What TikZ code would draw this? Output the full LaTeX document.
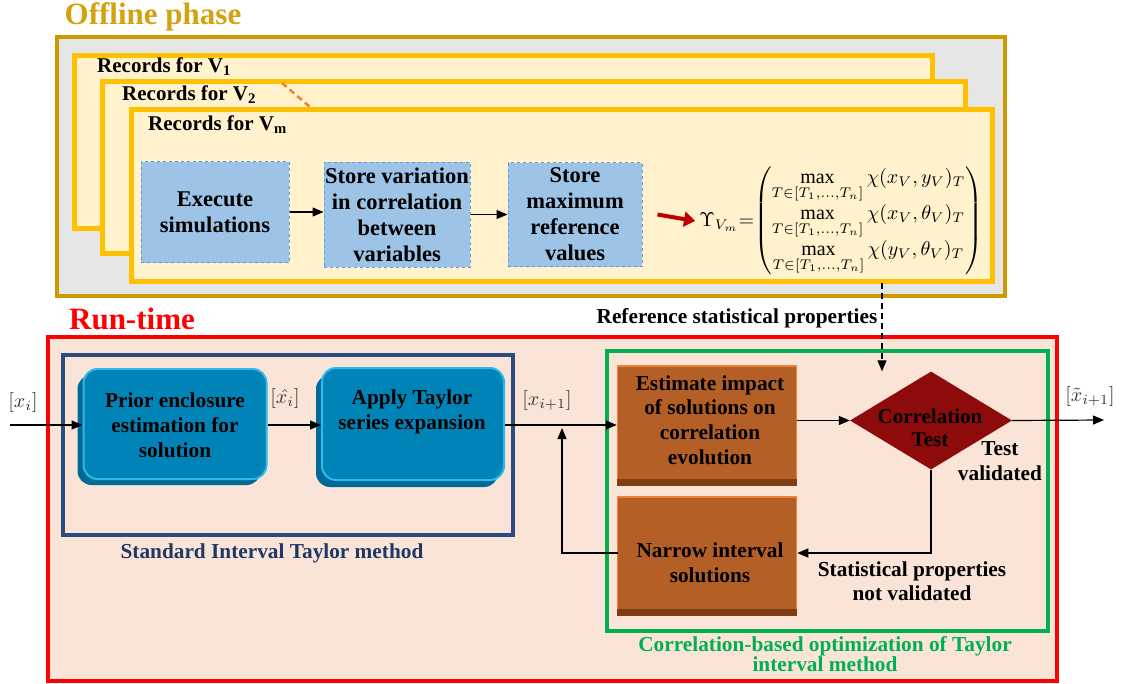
\documentclass[tikz,border=0pt]{standalone}
\usepackage{amsmath}
\usepackage{graphicx}
\usepackage{fontspec}
\setmainfont{Liberation Serif}
\usetikzlibrary{shapes.geometric,arrows.meta}
\definecolor{goldb}{HTML}{CC9900}
\definecolor{goldt}{HTML}{D4A20F}
\definecolor{grayf}{HTML}{E6E6E6}
\definecolor{recb}{HTML}{FFC000}
\definecolor{recf}{HTML}{FFF2CC}
\definecolor{lblue}{HTML}{9DC3E6}
\definecolor{dblue}{HTML}{5B9BD5}
\definecolor{peach}{HTML}{FAE4D7}
\definecolor{navy}{HTML}{2B4C7E}
\definecolor{navyt}{HTML}{1F3864}
\definecolor{gre}{HTML}{00B050}
\definecolor{teal}{HTML}{0084B8}
\definecolor{tealsh}{HTML}{006A96}
\definecolor{teall}{HTML}{2FB8EE}
\definecolor{brown}{HTML}{B35F26}
\definecolor{brownb}{HTML}{EE8234}
\definecolor{brownd}{HTML}{7E3D12}
\definecolor{dred}{HTML}{8E0B0B}
\definecolor{arrred}{HTML}{C00000}
\begin{document}
\begin{tikzpicture}[x=1pt,y=-1pt,
  rec/.style={draw=recb,line width=5pt,fill=recf},
  rlabel/.style={anchor=west,font=\bfseries\fontsize{21}{23}\selectfont,inner sep=0pt},
  dbox/.style={draw=dblue,dashed,line width=1pt,fill=lblue,inner sep=0pt,align=center,font=\bfseries\fontsize{22.5}{26}\selectfont},
  tbox/.style={rounded corners=14pt,fill=teal,draw=teall,line width=2pt,inner sep=0pt},
  tshadow/.style={rounded corners=14pt,fill=tealsh,inner sep=0pt},
  btxt/.style={align=center,font=\bfseries\fontsize{21.3}{24.8}\selectfont,inner sep=0pt},
  obox/.style={fill=brown,draw=brownb,line width=1.5pt,inner sep=0pt},
  arr/.style={line width=1.2pt,-{Triangle[length=11pt,width=9pt]}},
  mlabel/.style={text=black!80,inner sep=0pt},
  lbl/.style={align=center,font=\bfseries\fontsize{21.3}{24}\selectfont,inner sep=0pt}
]
\useasboundingbox (0,0) rectangle (1127,683);
% ---------------- Offline phase
\node[font=\bfseries\fontsize{31}{33}\selectfont,text=goldt,inner sep=0pt] (offt) at (153,17) {Offline phase};
\draw[draw=goldb,fill=grayf,line width=4pt] (57,37) rectangle (1005,296);
\draw[rec] (74,55) rectangle (932,228);
\draw[rec] (102,81) rectangle (965,253);
\draw[rec] (131,109) rectangle (992,281);
\node[rlabel] (r1) at (97,67) {Records for V\textsubscript{1}};
\node[rlabel] (r2) at (122,95) {Records for V\textsubscript{2}};
\node[rlabel] (r3) at (148,125) {Records for V\textsubscript{m}};
\coordinate (d1) at (282,83);
\coordinate (d2) at (310,107);
\draw[draw=brownb,line width=2.5pt,dash pattern=on 6pt off 4pt] (d1) -- (d2);

\node[dbox,minimum width=148,minimum height=101] (exec) at (215,212) {Execute\\simulations};
\node[dbox,minimum width=146,minimum height=105] (svar) at (397,214.5) {Store variation\\in correlation\\between\\variables};
\node[dbox,minimum width=134,minimum height=104] (smax) at (575,214.5) {Store\\maximum\\reference\\values};
\draw[arr] (exec.east) -- (exec.east -| svar.west);
\draw[arr] (svar.east) -- (svar.east -| smax.west);

\node[inner sep=0pt] (form) at (841,221)
 {\scalebox{2}{$\Upsilon_{V_m}{=}\!\begin{pmatrix}\max\limits_{T\in[T_1,\ldots,T_n]}\chi(x_V,y_V)_T\\[1pt]
 \max\limits_{T\in[T_1,\ldots,T_n]}\chi(x_V,\theta_V)_T\\[1pt]
 \max\limits_{T\in[T_1,\ldots,T_n]}\chi(y_V,\theta_V)_T\end{pmatrix}$}};
\draw[arrred,line width=4pt,-{Triangle[length=11pt,width=15pt]}] ([xshift=15pt]smax.east) -- ([xshift=-4pt]form.west);

% ---------------- Run-time
\node[font=\bfseries\fontsize{31}{33}\selectfont,text=red,inner sep=0pt] (runt) at (132,319) {Run-time};
\node[lbl] (refp) at (737,318) {Reference statistical properties};
\draw[draw=red,fill=peach,line width=4pt] (48,337) rectangle (1057,681);
\draw[draw=navy,line width=4pt] (63,355) rectangle (513,535);
\node[lbl,text=navyt] (stdl) at (272,553) {Standard Interval Taylor method};
\draw[draw=gre,line width=4.5pt] (607,351) rectangle (1048,631);
\node[lbl,text=gre,font=\bfseries\fontsize{21.3}{18}\selectfont] (corl) at (825,654) {Correlation-based optimization of Taylor\\interval method};

% teal boxes
\node[tshadow,minimum width=183,minimum height=110] (priors) at (169,430) {};
\node[tbox,minimum width=183,minimum height=110] (prior) at (175,424) {};
\node[btxt] (priort) at (175,425) {Prior enclosure\\estimation for\\solution};
\node[tshadow,minimum width=182,minimum height=112] (applys) at (407,431) {};
\node[tbox,minimum width=182,minimum height=112] (apply) at (413,424) {};
\node[btxt] (applyt) at (412,412) {Apply Taylor\\series expansion};

% orange boxes
\node[obox,minimum width=179,minimum height=119] (est) at (707,425.5) {};
\fill[brownd] ([yshift=7pt]est.south west) -- ([yshift=7pt]est.south east) -- (est.south east) -- (est.south west) -- cycle;
\node[btxt] (estt) at (710,420) {Estimate impact\\of solutions on\\correlation\\evolution};
\node[obox,minimum width=179,minimum height=118] (narrow) at (707,556) {};
\fill[brownd] ([yshift=7pt]narrow.south west) -- ([yshift=7pt]narrow.south east) -- (narrow.south east) -- (narrow.south west) -- cycle;
\node[btxt] (narrowt) at (710,563) {Narrow interval\\solutions};

% diamond
\node[diamond,fill=dred,minimum width=162,minimum height=98,inner sep=0pt] (diam) at (931,420.5) {};
\node[btxt,font=\bfseries\fontsize{21}{23}\selectfont] (diamt) at (930,428) {Correlation\\Test};
\node[lbl,font=\bfseries\fontsize{21.3}{25}\selectfont] (tval) at (1000,461) {Test\\validated};
\node[lbl] (nval) at (912,581) {Statistical properties\\not validated};

% math labels
\coordinate (xin) at (10,425);
\coordinate (xout) at (1104,420);
\node[mlabel] (lxi) at (23,402) {\scalebox{2}{$[x_i]$}};
\node[mlabel] (lxh) at (285,398) {\scalebox{2}{$[\hat{x_i}]$}};
\node[mlabel] (lxn) at (547,400) {\scalebox{2}{$[x_{i+1}]$}};
\node[mlabel] (lxt) at (1090,396) {\scalebox{2}{$[\tilde{x}_{i+1}]$}};

% connectors
\draw[arr] (xin) -- (prior.west |- xin);
\draw[arr] (prior.east |- xin) -- (apply.west |- xin);
\draw[arr] (apply.east |- xin) -- (est.west |- xin);
\draw[arr] (est.east |- diam.west) -- (diam.west);
\draw[arr] (diam.east) -- (xout);
\coordinate (fb) at (562,428);
\coordinate (fbl) at (618,553);
\draw[arr] (fbl) -| (fb);
\draw[arr] (diam.south) |- (fbl -| narrow.east);
\coordinate (fbot) at (882,283);
\draw[line width=1.1pt,dash pattern=on 6pt off 4pt,-{Triangle[length=11pt,width=9pt]}] (fbot) -- (fbot |- diam.north);
\end{tikzpicture}
\end{document}
